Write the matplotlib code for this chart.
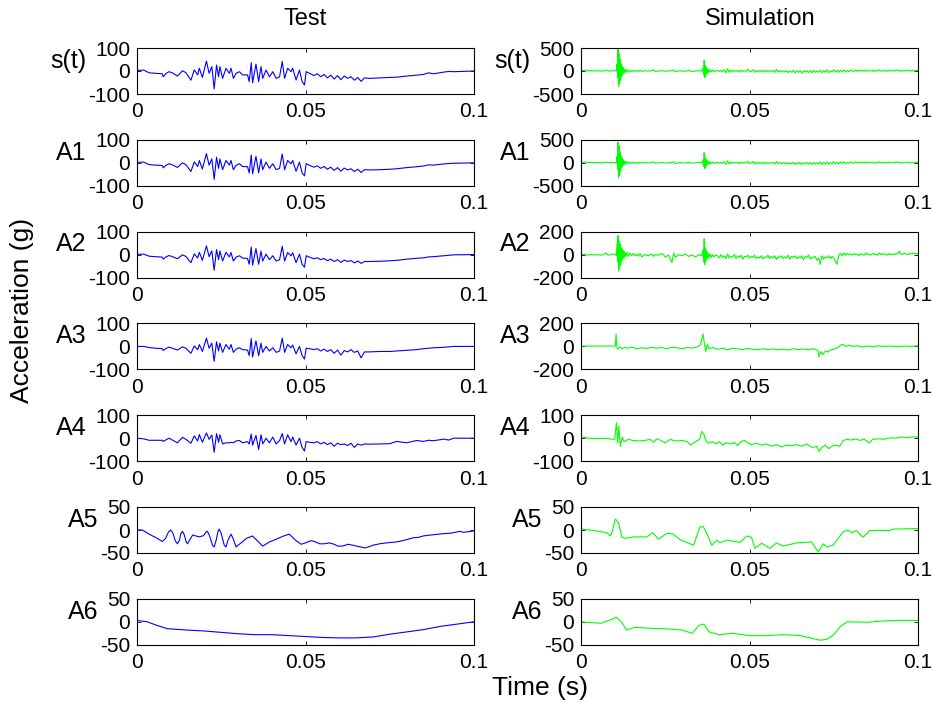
import numpy as np
import matplotlib.pyplot as plt

plt.rcParams['font.family'] = ['Liberation Sans', 'DejaVu Sans']

# ---- Test signals (time in ms) ----
test_ms = [0, 2, 3.6, 5.5, 7.5, 7.8, 8.5, 9.5, 10.5, 12.0,
           13.5, 14.5, 16.0, 17.0, 18.0, 18.5, 19.4, 20.6, 21.4, 22.2,
           22.9, 23.6, 24.2, 24.6, 25.4, 26.4, 27.4, 27.9, 28.6, 29.4,
           30.4, 31.3, 32.8, 33.3, 33.9, 34.3, 35.3, 36.1, 36.8, 37.3,
           38.3, 39.3, 40.3, 41.3, 42.3, 43.1, 43.8, 44.7, 45.7, 46.2,
           47.2, 48.2, 49.0, 49.7, 50.2, 51.2, 52.5, 53.5, 54.5, 55.5,
           56.5, 57.5, 58.5, 59.5, 60.5, 61.5, 62.5, 63.5, 64.5, 65.5,
           66.5, 67.5, 69.0, 72.0, 75.0, 77.0, 80.0, 83.0, 85.0, 86.5,
           88.0, 91.0, 92.5, 94.0, 100]

test_st = [2, 4, -8, -10, -12, -25, -12, -3, -8, -22,
           1, -7, -40, 5, -17, 12, -28, 43, -10, 19,
           -78, 26, -25, 19, -32, 12, -10, 12, -32, -10,
           -3, -17, -17, -46, 36, -51, 30, -46, 19, -32,
           4, -25, -3, -32, -25, 41, -32, 12, -3, 12,
           -39, 4, -46, -61, -3, -10, -20, -12, -25, -15,
           -30, -18, -35, -20, -38, -22, -32, -25, -40, -28,
           -45, -30, -32, -30, -28, -27, -22, -18, -15, -8,
           -12, -5, -2, -3, 0]

test_a1 = [2, 3, -8, -10, -12, -22, -12, -4, -9, -20,
           0, -8, -38, 4, -16, 10, -27, 40, -10, 17,
           -72, 24, -24, 17, -30, 10, -10, 10, -30, -11,
           -4, -16, -17, -44, 34, -48, 28, -44, 17, -30,
           3, -24, -4, -30, -24, 38, -30, 10, -4, 10,
           -37, 3, -44, -57, -4, -11, -19, -13, -24, -16,
           -28, -19, -33, -21, -36, -23, -31, -26, -38, -28,
           -42, -30, -31, -30, -28, -26, -21, -17, -14, -9,
           -10, -5, -3, -2, 0]

test_a2 = [1, 2, -7, -9, -11, -20, -11, -4, -9, -18,
           -1, -8, -35, 3, -15, 10, -25, 38, -9, 16,
           -68, 22, -22, 16, -28, 10, -10, 9, -28, -11,
           -5, -15, -17, -42, 33, -46, 26, -42, 15, -28,
           2, -22, -5, -28, -22, 36, -28, 9, -5, 8,
           -35, 2, -42, -55, -5, -11, -18, -14, -22, -17,
           -26, -20, -30, -22, -34, -24, -30, -26, -36, -28,
           -38, -30, -30, -29, -27, -25, -20, -16, -14, -10,
           -9, -5, -3, -1, 0]

test_a3 = [0, 0, -5, -8, -10, -18, -10, -3, -8, -16,
           -2, -8, -30, 2, -14, 8, -22, 36, -8, 14,
           -65, 20, -20, 14, -26, 8, -12, 8, -26, -12,
           -6, -14, -16, -40, 34, -46, 24, -40, 14, -26,
           0, -20, -6, -26, -20, 36, -26, 8, -6, 6,
           -32, 0, -40, -55, -8, -10, -14, -10, -20, -12,
           -22, -14, -30, -16, -38, -18, -24, -14, -26, -20,
           -50, -24, -24, -22, -22, -20, -17, -14, -10, -8,
           -6, -4, -2, 0, 0]

test_a4 = [0, -3, -9, -9, -9, -14, -8, 0, -8, -20,
           4, -5, -22, 10, -12, 16, -18, 23, -5, 14,
           -61, 20, -18, 15, -25, -20, -20, -18, -20, -12,
           -10, -20, -15, -25, 18, -30, 12, -49, 15, -25,
           0, -20, 5, -25, -10, 20, -25, 15, -15, 5,
           -30, 0, -40, -56, -15, -18, -20, -15, -25, -18,
           -28, -20, -35, -22, -28, -25, -32, -22, -40, -25,
           -30, -25, -26, -25, -24, -14, -20, -10, -14, -9,
           -11, -4, -8, 0, 0]

test5_ms = [0, 1.6, 3.6, 6, 7.5, 8.5, 9.3, 10.0, 10.6, 11.4,
            12.0, 12.6, 13.0, 13.5, 14.0, 14.6, 15.0, 15.6, 16.5, 17.5,
            18.5, 19.8, 20.5, 20.9, 21.5, 22.4, 22.9, 23.5, 24.0, 24.4,
            25.0, 25.9, 26.4, 27.0, 27.9, 28.6, 29.4, 30.0, 30.9, 32.5,
            34.3, 35.8, 37.3, 39.3, 41.3, 43.5, 45.2, 47, 48.7, 50,
            51.7, 53, 54.2, 55.5, 57.1, 58.5, 59.6, 61, 62.6, 64,
            65.1, 66.5, 67.6, 69, 70.0, 72, 74.0, 77.0, 79.5, 81.9,
            83.5, 84.9, 87, 90.9, 93, 95.8, 96.8, 98, 100]
test_a5 = [0, 0, -9, -18, -25, -18, -5, 0, -6, -24,
           -30, -22, -8, -3, -10, -26, -30, -22, -11, -13,
           -15, -12, -4, -3, -12, -33, -37, -22, -4, 2,
           -8, -33, -37, -22, -9, -20, -37, -33, -28, -18,
           -13, -24, -35, -26, -20, -13, -9, -22, -31, -28,
           -23, -26, -30, -30, -28, -31, -35, -35, -31, -33,
           -35, -37, -39, -36, -33, -30, -28, -26, -22, -17,
           -16, -13, -11, -8, -7, -3, -5, -4, -2]

test6_ms = [0, 3, 6, 9, 15, 20, 25, 30, 35, 40, 50, 55, 60, 65, 70, 75, 80, 85, 90, 95, 100]
test_a6 = [3, 0, -8, -15, -18, -20, -23, -26, -28, -28, -32, -34, -35, -35, -33, -27, -22, -17, -10, -5, 0]

# ---- Simulation signals (time in ms) ----
sim_ms = [0, 1, 2, 3, 4, 5, 6, 7, 7.5, 8, 9, 10, 10.5,
          10.7, 10.9, 11.0, 11.15, 11.3, 11.45, 11.6, 11.75, 11.9, 12.05,
          12.2, 12.4, 12.6, 12.8, 13.0, 13.3, 13.6, 14.0, 14.5, 15.0, 15.5, 16.0,
          16.5, 17, 17.5, 18, 19, 20, 21, 21.5, 22, 23, 24, 25,
          26, 27, 27.5, 28, 29, 30, 31, 32, 33, 34, 35, 35.8,
          36.2, 36.4, 36.55, 36.7, 36.85, 37.0, 37.2, 37.4, 37.6, 37.9,
          38.2, 38.6, 39.0, 39.5, 40.0,
          40.5, 41, 41.5, 42, 42.5, 43, 43.5, 44, 44.5, 45, 45.5, 46, 46.5, 47, 47.5, 48, 48.5, 49, 49.5, 50,
          50.5, 51, 51.5, 52, 52.5, 53, 53.5, 54, 54.5, 55, 55.5, 56, 56.5, 57, 57.5, 58, 58.5, 59, 59.5, 60,
          60.5, 61, 61.5, 62, 62.5, 63, 63.5, 64, 64.5, 65, 65.5, 66, 66.5, 67, 67.5, 68, 68.5, 69, 69.5, 70,
          70.5, 71, 71.5, 72, 72.5, 73, 73.5, 74, 74.5, 75, 75.5, 76, 76.5, 77, 77.5, 78, 78.5, 79, 79.5, 80,
          80.5, 81, 81.5, 82, 82.5, 83, 83.5, 84, 84.5, 85, 85.5, 86, 86.5, 87, 87.5, 88, 88.5, 89, 89.5, 90,
          90.5, 91, 91.5, 92, 92.5, 93, 93.5, 94, 94.5, 95, 95.5, 96, 96.5, 97, 97.5, 98, 98.5, 99, 99.5, 100]

sim_st = [10, 20, 5, 10, 0, 5, 0, 5, 20, 5, 0, 10, 0,
          150, -150, 470, -330, 380, -280, 250, -200, 160, -120,
          110, -80, 70, -50, 40, -30, 30, -20, 20, -15, 15, -10,
          10, -15, 20, -10, 5, 0, 5, 30, -10, 0, 5, -5,
          0, 10, 25, -20, 5, 0, -5, 10, -10, 0, 5, 0,
          60, -80, 235, -140, 120, -110, 80, -60, 50, -40,
          30, -20, 20, -15, 10,
          10, -10, 15, -20, 30, -40, 50, -30, 20, -15, 10, -5, 15, -25, 20, -10, 5, -5, 40, -20,
          -10, 30, -30, 15, -20, 10, -15, 20, -25, 10, -20, 5, -10, 15, -30, 35, -20, 10, -25, 5,
          -20, 10, -35, 0, -25, 15, -40, 5, -30, 10, -45, 0, -20, 10, -35, 5, -40, 15, -30, 0,
          -25, 20, -40, 10, -30, 25, -35, 5, -20, 30, -25, 15, -30, 20, -15, 25, -20, 10, -15, 20,
          10, -15, 25, -10, 20, 0, 15, -10, 25, -5, 10, 0, 20, -15, 15, 5, 25, -5, 10, 0,
          15, -10, 20, 0, 10, -5, 25, 5, 15, -10, 10, 0, 20, 5, 15, -5, 10, 5, 15, 10]

sim_a1 = [8, 15, 5, 8, 0, 5, 0, 5, 15, 5, 0, 8, 0,
          140, -140, 450, -320, 360, -270, 240, -190, 150, -110,
          100, -75, 65, -45, 35, -28, 28, -18, 18, -12, 12, -8,
          8, -12, 18, -8, 5, 0, 5, 25, -8, 0, 5, -5,
          0, 8, 22, -18, 5, 0, -5, 8, -8, 0, 5, 0,
          55, -75, 220, -130, 110, -100, 75, -55, 45, -35,
          28, -18, 18, -12, 8,
          8, -12, 12, -18, 28, -35, 45, -28, 18, -12, 8, -5, 12, -22, 18, -10, 5, -5, 35, -18,
          -10, 28, -28, 12, -18, 10, -15, 18, -22, 8, -18, 5, -10, 12, -28, 30, -18, 8, -22, 5,
          -18, 8, -32, 0, -22, 12, -38, 5, -28, 8, -40, 0, -18, 8, -32, 5, -36, 12, -28, 0,
          -22, 18, -36, 8, -28, 22, -32, 5, -18, 28, -22, 12, -28, 18, -12, 22, -18, 8, -12, 18,
          8, -12, 22, -8, 18, 0, 12, -8, 22, -5, 8, 0, 18, -12, 12, 5, 22, -5, 8, 0,
          12, -8, 18, 0, 8, -5, 22, 5, 12, -8, 8, 0, 18, 5, 12, -5, 8, 5, 12, 8]

sim_a2 = [0, 5, -5, 0, -3, 0, -5, 5, 15, -5, 0, 5, -10,
          100, -60, 165, -143, 120, -120, 90, -90, 60, -60,
          50, -40, 35, -30, 25, -20, 20, -15, 15, -10, 10, -10,
          5, -15, 10, -20, 0, -10, 5, -15, 0, -5, 10, -20,
          -5, -70, 15, -25, 0, -10, 5, -15, -5, -20, 0, -10,
          40, -60, 137, -85, 60, -60, 40, -40, 20, -30,
          10, -25, 0, -20, -5,
          -10, -30, 0, -25, -10, -35, 5, -30, -15, -20, 0, -35, -10, -25, -5, -40, -15, -20, -5, -30,
          -15, -25, -5, -35, -20, -30, -10, -40, -20, -25, -5, -35, -15, -30, -10, -45, -20, -25, -10, -35,
          -20, -30, -5, -40, -15, -25, -10, -35, -20, -30, -10, -45, -15, -25, -5, -40, -20, -30, -15, -50,
          -30, -85, -10, -40, -20, -30, -10, -35, -15, -30, -60, -85, -5, 10, -10, 15, -5, 10, 0, 5,
          -5, 10, 0, 5, -10, 10, 0, -5, 15, 0, 5, -5, 10, 0, 5, -5, 15, 0, 10, 0,
          5, -5, 10, 0, 5, 0, 10, 5, 30, 0, 5, 10, 5, 0, 10, 5, 15, 5, 10, 5]

sim3_ms = [0, 5, 10.2, 10.4, 10.6, 10.9, 11.5, 12.2, 13, 14,
           15, 16.5, 18, 19.5, 21, 22.5, 24, 25.5, 27, 28.5,
           30, 31.5, 33, 34.5, 35.5, 36.2, 36.6, 37, 37.5, 38,
           39, 40.5, 42, 43.5, 45, 46.5, 48, 49.5, 51, 52.5,
           54, 55.5, 57, 58.5, 60, 61.5, 63, 64.5, 66, 67.5,
           69, 70.3, 70.6, 71.2, 71.8, 72.5, 73.3, 74, 75, 76,
           77, 77.8, 78.5, 79.5, 80.5, 82, 83.5, 85, 86.5, 88,
           90, 92, 94, 96, 98, 100]
sim_a3 = [3, 3, 3, 107, 5, -25, -5, -20, -10, -15,
          -5, -20, -12, -18, -8, -15, -10, -20, -8, -12,
          -20, -10, -15, -5, 15, 107, 30, -45, 20, -20,
          -10, -25, -15, -30, -15, -22, -28, -18, -25, -30,
          -20, -28, -22, -30, -25, -32, -20, -28, -22, -30,
          -20, -35, -90, -45, -70, -40, -50, -30, -25, -15,
          10, 17, 0, 10, 0, 5, -5, 3, -3, 5,
          0, 3, -2, 3, 0, 5]

sim4_ms = [0, 1, 2, 3, 5, 7, 8.5, 10, 10.5, 10.9,
           11.2, 11.7, 12.2, 12.8, 14, 15.5, 17, 19, 20.5, 21.5,
           22.5, 24, 25, 26.5, 27.5, 28.5, 30, 31.5, 32.5, 34,
           35.2, 35.8, 36.4, 37, 37.8, 39, 40, 41, 42, 43,
           44.5, 45.5, 46.5, 47.5, 48.5, 49.5, 50.5, 52, 53.5, 55,
           56.5, 58, 59.5, 61, 62.5, 64, 65.5, 67, 68.5, 70,
           70.6, 71.5, 72.5, 73.5, 75, 76.8, 77.8, 79, 80, 81.5,
           83, 84, 85.5, 86.5, 88, 90, 92, 93.5, 95, 97,
           98.5, 100]
sim_a4 = [0, 5, 0, 0, -2, 0, -3, -5, 67, -20,
          53, -36, 5, -15, -5, -10, -12, -10, -5, -18,
          -2, -12, -20, -5, -10, -12, -10, -15, -29, -15,
          -5, 29, 20, -10, -21, -15, -25, -15, -30, -20,
          -25, -18, -32, -15, -10, -20, -28, -22, -30, -25,
          -35, -28, -38, -30, -33, -28, -35, -25, -40, -36,
          -57, -40, -30, -45, -30, -35, -10, -5, -8, -3,
          -10, -3, -21, -5, -3, -4, 2, 0, 5, 2,
          6, 5]

sim5_ms = [0, 3.8, 7.7, 8.7, 9.2, 10.2, 11.2, 12.1, 13.1, 15.6,
           19.5, 21.3, 23.0, 25.5, 27.4, 29.4, 33.4, 35.3, 36.3, 37.3,
           38.8, 40.3, 41.3, 43.2, 47.2, 49.2, 50.6, 51.6, 53.6, 56.1,
           58.0, 60.0, 64.0, 68.4, 70.4, 71.9, 72.9, 74.8, 77.8, 79.3,
           80.3, 81.7, 83.7, 85.7, 91.6, 92.6, 100]
sim_a5 = [2, -1, -6, -13, -5, 24, 15, -15, -18, -15,
          -15, -6, -20, -7, -9, -21, -33, 7, 7, -7,
          -33, -22, -28, -22, -27, -13, -16, -40, -29, -40,
          -28, -35, -28, -26, -48, -30, -37, -33, -4, 0,
          -6, -1, -16, -1, -1, 2, 3]

sim6_ms = [0, 3, 6, 9, 10.5, 12, 13.5, 16, 20, 25,
           30, 33, 35, 36.5, 38, 41, 45, 50, 55, 60,
           65, 68, 71, 73, 75, 77, 79, 85, 90, 95, 100]
sim_a6 = [0, -2, -3, 5, 10, 0, -18, -12, -14, -15,
          -18, -25, -8, -5, -22, -28, -25, -30, -30, -28,
          -30, -35, -40, -38, -28, -10, 0, -1, 2, 3, 3]

row_names = ['s(t)', 'A1', 'A2', 'A3', 'A4', 'A5', 'A6']
test_lims = [100, 100, 100, 100, 100, 50, 50]
sim_lims = [500, 500, 200, 200, 100, 50, 50]

test_data = [(test_ms, test_st), (test_ms, test_a1), (test_ms, test_a2), (test_ms, test_a3),
             (test_ms, test_a4), (test5_ms, test_a5), (test6_ms, test_a6)]
sim_data = [(sim_ms, sim_st), (sim_ms, sim_a1), (sim_ms, sim_a2), (sim3_ms, sim_a3),
            (sim4_ms, sim_a4), (sim5_ms, sim_a5), (sim6_ms, sim_a6)]

W, H = 933, 703
fig = plt.figure(figsize=(W / 100, H / 100), dpi=100)

for i in range(7):
    top = 48 + i * 91.8
    for x0, data, lims, color in [(137, test_data, test_lims, (0, 0, 1)),
                                  (581, sim_data, sim_lims, (0, 1, 0))]:
        ax = fig.add_axes([x0 / W, 1 - (top + 46) / H, 337 / W, 46 / H])
        ms, vals = data[i]
        ax.plot(np.array(ms) / 1000.0, vals, color=color, lw=0.8)
        L = lims[i]
        ax.set_xlim(0, 0.1)
        ax.set_ylim(-L, L)
        ax.set_xticks([0, 0.05, 0.1])
        ax.set_xticklabels(['0', '0.05', '0.1'])
        ax.set_yticks([-L, 0, L])
        ax.set_yticklabels([str(-L), '0', str(L)])
        ax.tick_params(direction='in', top=True, right=True, labelsize=15, length=3, pad=5, width=0.6)
        ax.tick_params(axis='x', pad=6)
        for s in ax.spines.values():
            s.set_linewidth(0.8)
        ax.set_ylabel(row_names[i], rotation=0, fontsize=18, ha='right', va='center', y=0.72, labelpad=1)

fig.text(305 / W, 1 - 19 / H, 'Test', ha='center', va='center', fontsize=17)
fig.text(760 / W, 1 - 19 / H, 'Simulation', ha='center', va='center', fontsize=17)
fig.text(22 / W, 1 - 310 / H, 'Acceleration (g)', ha='center', va='center', rotation=90, fontsize=19)
fig.text(540 / W, 1 - 688 / H, 'Time (s)', ha='center', va='center', fontsize=19)

fig.savefig('out.png', dpi=100)
